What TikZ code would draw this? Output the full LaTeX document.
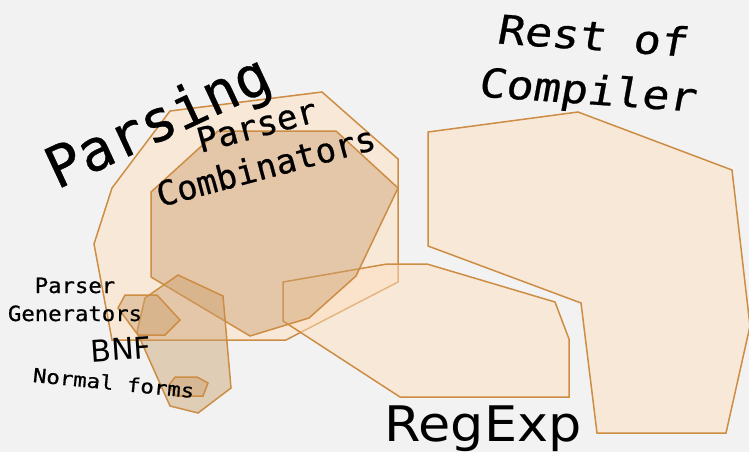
\documentclass[tikz,border=0pt]{standalone}
\usepackage{fontspec}
\newfontfamily\monofnt[FakeBold=0.6]{DejaVu Sans Mono}
\newfontfamily\sansfnt{DejaVu Sans}
\definecolor{bgcol}{RGB}{242,242,242}
\definecolor{edgecol}{RGB}{205,141,68}
\definecolor{lightcol}{RGB}{255,224,192}
\definecolor{darkcol}{RGB}{204,160,110}
\tikzset{
  lightarea/.style={draw=edgecol, line width=1.5pt, fill=lightcol, fill opacity=0.5, line join=miter},
  darkarea/.style={draw=edgecol, line width=1.5pt, fill=darkcol, fill opacity=0.45, line join=miter},
  lbl/.style={anchor=base, inner sep=0pt, text=black},
}
\newcommand{\mfs}[1]{\monofnt\fontsize{#1}{#1}\selectfont}
\newcommand{\sfs}[1]{\sansfnt\fontsize{#1}{#1}\selectfont}
\begin{document}
\begin{tikzpicture}[x=1pt, y=-1pt]
\fill[bgcol] (0,0) rectangle (749,452);
\useasboundingbox (0,0) rectangle (749,452);
\clip (0,0) rectangle (749,452);
% areas
\draw[lightarea] (428,132) -- (578,112) -- (732,170) -- (750,326) -- (726,433) -- (597,433) -- (581,303) -- (428,246) -- cycle;
\draw[lightarea] (170,111) -- (322,92) -- (398,159) -- (398,282) -- (286,340) -- (112,340) -- (94,244) -- (112,188) -- cycle;
\draw[lightarea] (283,282) -- (387,264) -- (427,264) -- (555,302) -- (569,339) -- (569,397) -- (400,397) -- (283,321) -- cycle;
\draw[darkarea] (151,192) -- (218,131) -- (336,131) -- (398,188) -- (356,276) -- (309,318) -- (250,336) -- (151,277) -- cycle;
\draw[darkarea] (178,275) -- (223,296) -- (231,388) -- (198,413) -- (170,406) -- (137,332) -- (145,298) -- cycle;
\draw[darkarea] (125,295) -- (157,295) -- (180,320) -- (165,335) -- (138,335) -- (118,308) -- cycle;
\draw[darkarea] (175,377) -- (197,377) -- (208,383) -- (203,396) -- (176,396) -- (169,385) -- cycle;
% labels
\node[lbl, rotate=25, font=\mfs{57}] (parsing) at (166,139) {Parsing};
\node[lbl, rotate=15, font=\mfs{34}] (pc1) at (260,137) {Parser};
\node[lbl, rotate=15, font=\mfs{34}] (pc2) at (269,178) {Combinators};
\node[lbl, rotate=-4, xscale=1.13, xslant=0.1, font=\mfs{40}] (rest1) at (591,50) {Rest of};
\node[lbl, rotate=-4, xscale=1.13, xslant=0.1, font=\mfs{40}] (rest2) at (586,104) {Compiler};
\node[lbl, xscale=1.06, font=\mfs{21}] (pg1) at (75,293) {Parser};
\node[lbl, xscale=1.06, font=\mfs{21}] (pg2) at (75,321) {Generators};
\node[lbl, rotate=4, font=\sfs{30}] (bnf) at (122,360) {BNF};
\node[lbl, rotate=-5.7, xscale=1.15, font=\mfs{19.5}] (nf) at (113,390) {Normal forms};
\node[lbl, xscale=1.07, font=\sfs{49}] (regexp) at (483,441) {RegExp};
\end{tikzpicture}
\end{document}
